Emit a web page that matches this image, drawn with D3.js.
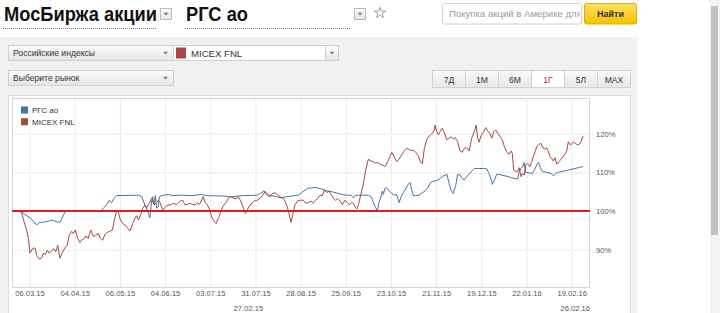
<!DOCTYPE html>
<html><head><meta charset="utf-8">
<script src="https://cdn.jsdelivr.net/npm/d3@7"></script>
<style>html,body{margin:0;padding:0;background:#fff;overflow:hidden}svg{display:block}</style>
</head><body><svg id="c" width="720" height="313"></svg>
<script>
// ---- data ----
const tickDays = [5,25,45,65,85,105,125,145,165,185,205,225,245];
const tickLabels = ["06.03.15","04.04.15","06.05.15","04.06.15","03.07.15","31.07.15","28.08.15","25.09.15","23.10.15","21.11.15","19.12.15","22.01.16","19.02.16"];
const rangeLabels = ["27.02.15","26.02.16"];
const yTicks = [90,100,110,120];
const seriesNames = ["РГС ао","MICEX FNL"];
const periodButtons = ["7Д","1М","6М","1Г","5Л","MAX"];
const rgs = [[0,100],[1.5,99.8],[3,99.1],[5.2,98.3],[6.7,97.4],[8.2,96.4],[9.4,97.1],[10.4,97.1],[11.9,97.2],[13.3,97.4],[14.8,97.7],[16.3,97.4],[17.3,97.2],[18.5,97.1],[19.7,98.5],[20.7,99.8],[22.2,100],[36.2,100],[37,100.3],[38,100.9],[39.2,101.7],[40.3,102.8],[41.4,102.2],[42.4,103.3],[43.6,104],[53.2,104.1],[54.7,103.7],[55.4,102.6],[56.1,101.6],[56.9,100.5],[57.6,99.4],[58.3,98.3],[59.1,102.8],[59.5,103.7],[60.1,101.7],[60.7,104],[61.3,100.7],[62,101.1],[62.5,103.7],[63.5,104],[66.5,104.3],[68,104],[72.4,104.1],[76.8,104],[81.2,104.3],[83.4,104],[90.8,103.9],[93.8,103.7],[99.7,104],[105.6,104.1],[107.3,104.6],[108.8,105.2],[110,104.6],[111.2,104.1],[114.4,103.7],[116.6,103.4],[118.8,103.7],[122.5,104],[124,104.1],[125.5,104.8],[127,105.4],[128.4,105.9],[129.9,106],[131.4,106.1],[132.9,105.9],[134.3,105.7],[136.6,105.2],[138.8,105],[140.9,104.7],[143.2,104.3],[145.4,104.1],[147.3,104.1],[148.4,103.4],[149.1,104],[150.6,104.1],[155,104.1],[156.2,103.7],[157.2,102.2],[158.2,100.9],[159,100],[159.7,102.2],[160.6,103.7],[161.2,105.2],[161.6,104.3],[162.4,105.9],[163.1,106],[164.2,105.2],[165.3,104.6],[166.5,104.1],[167.5,104.3],[168.6,102.2],[169.5,103.7],[170.5,104.8],[171.5,105.7],[172.4,106.7],[173.4,107.4],[174.2,105.4],[174.9,104],[175.9,104],[177.4,104.1],[178.6,104.6],[180.1,105.2],[181.3,106],[182.3,107.2],[183.3,107.6],[184.5,107.8],[185.7,108],[186.7,108.4],[187.7,108.9],[188.9,109.3],[189.8,109.5],[190.7,107.2],[191.6,105.4],[192.6,104.6],[193.7,106.7],[194.5,109.5],[195.6,109.3],[196.3,108.6],[197.5,108],[198.5,108.9],[199.6,109.5],[200.7,110.3],[201.9,111],[203.7,111],[205.9,111],[207.4,110.9],[208.4,109.7],[209.3,108.3],[209.9,106.9],[210.8,108],[211.8,109.5],[212.8,109.5],[214,109.3],[215.5,109.1],[216.9,108.9],[218.4,108.6],[219.9,108.4],[221.1,108.3],[221.7,110],[222.6,111],[223.3,111.5],[224,112.6],[224.6,110],[225.8,109.9],[227.6,109.7],[228.5,110.6],[229.5,111.9],[230.3,112.6],[231.1,111.2],[232,110.2],[234,110],[235.9,109.7],[236.9,109.1],[237.9,109.7],[239.1,110],[241.3,110.3],[243.5,110.6],[245.7,110.9],[247.9,111.2],[250,111.5]];
const micex = [[0,100],[1.5,99.7],[2.6,97.2],[3.7,95.1],[4.5,92.9],[5.2,89.2],[6.4,90.3],[7.4,90.5],[8.2,88.6],[9.4,87.6],[10.4,87.9],[11.1,89.1],[12,88.8],[12.9,89.9],[13.8,89.1],[14.7,89.7],[15.6,90.3],[16.6,89.5],[17.5,91.2],[18.5,87.8],[19.7,89.5],[20.7,90.5],[21.7,91.2],[22.6,93.8],[23.7,94.8],[24.4,94.2],[25.3,95.1],[26.3,92.9],[27.3,91.9],[28.1,92.5],[29.1,92.9],[30,93.6],[31,92.9],[32.1,95.1],[33.3,93.4],[34.3,93.8],[35.5,94.2],[36.2,93.1],[37.4,92.5],[38.4,94],[39.5,94.5],[40.6,94.8],[41.7,95.1],[42.4,97.2],[43.6,100.3],[44.3,99.8],[45.1,97.9],[46.2,96.8],[47.3,96.4],[48.3,95.7],[49.5,94.9],[50.7,96.8],[51.7,98.1],[52.4,98.8],[53.2,97.7],[54.2,99.1],[55.1,100.7],[56.1,101.6],[56.9,100.9],[58,102],[59.1,103.3],[60.1,101.6],[61.3,102.2],[62,102.8],[62.8,102.2],[63.9,100.3],[65,100.9],[65.7,101.4],[66.9,101.6],[67.9,101.7],[68.7,102],[70.1,101.7],[70.9,102.2],[71.9,102.6],[72.8,102.8],[73.8,101.6],[74.8,101.7],[76,102],[77.2,101.7],[78.3,101.6],[79.3,102.2],[80.2,101.7],[81.2,102.8],[81.9,103.7],[82.7,102.2],[83.7,101.7],[84.6,100.5],[85.6,98.5],[86.7,97.4],[87.6,96.8],[88.6,98.1],[89.6,99.8],[90.8,101.4],[92,102.2],[93,103.3],[94,103.7],[95.2,103.4],[96.4,103.1],[97.4,103.7],[98.5,102.6],[99.7,100.7],[100.5,99.4],[101.4,100.3],[102.6,101.6],[103.8,102.2],[104.8,102.8],[105.9,102.8],[107,103.3],[108.2,104.1],[109.3,105],[110.3,104],[111.5,103.7],[112.6,104.6],[113.7,104.7],[114.7,104.3],[115.9,103.7],[117.1,103.3],[118.1,102.6],[119.1,101.1],[120,99],[120.8,97.1],[121.8,99.8],[122.5,101.6],[123.6,102.6],[124.7,102.8],[126.2,102.8],[127.3,102],[128.4,102.2],[129.6,102.6],[130.6,102],[131.7,102.8],[132.6,103.3],[133.6,104.1],[134.6,104],[135.5,105.4],[136.5,104.8],[137.6,105.2],[138.5,104.3],[139.5,103.3],[140.5,102.8],[141.4,103.3],[142.5,102.6],[143.5,101.7],[144.7,102.8],[145.7,102.2],[146.6,101.6],[147.6,102.2],[148.4,102],[149.1,101.1],[149.9,100.5],[150.6,101.7],[151.6,104.1],[152.8,107.2],[153.8,110.6],[155,113.4],[156.2,112.9],[157.2,112.8],[158.2,112.3],[159.1,112.6],[160.2,112.1],[161.2,111.9],[162.4,111.5],[163.6,112.8],[164.6,114.1],[165.3,115.2],[166.4,114.1],[167.5,112.8],[168.6,113.4],[169.7,114.5],[170.9,115.5],[171.9,116.2],[173,116],[173.9,115.5],[174.9,115.8],[175.9,115.2],[177.1,114.3],[177.9,112.9],[178.9,112.2],[179.8,116.2],[180.8,118.4],[181.5,119.2],[182.3,119.5],[183.3,120.1],[184.2,120.9],[184.5,122.2],[185.2,120.7],[186,119.7],[186.9,120.7],[187.7,121.4],[188.6,120.3],[189.7,118.4],[190.7,118.8],[191.6,119.2],[192.6,118.6],[193.4,119],[194.5,117.9],[195.6,115.5],[196.6,115.2],[197.5,116.2],[198.5,116.4],[199.6,115.5],[200.7,118.8],[201.9,120.5],[202.7,122.2],[203.4,118.8],[204,117.8],[204.9,119.5],[205.9,120.3],[206.9,121.6],[207.8,120.7],[208.8,120.1],[209.6,118.8],[210.5,120.5],[211.4,120.9],[212.3,120.1],[213.3,119.2],[214.3,118.4],[215.2,116.6],[216.2,115.3],[217.3,114.7],[218.2,115.5],[218.7,114.9],[219.3,110.6],[220.2,110.3],[221.1,110.2],[221.7,111.2],[222.6,108.9],[223.2,109.7],[224,109.3],[224.6,111.9],[225.5,112.3],[226.5,111.5],[227.3,112.8],[228,114.1],[228.8,115.3],[229.5,116.6],[230.5,117.2],[231.4,117.5],[232.4,116.2],[233.2,116],[233.9,116.4],[234.7,115.3],[235.4,114.1],[236.1,113.6],[236.9,112.9],[237.6,113.8],[238.4,112.1],[239.4,112.8],[240.6,113.6],[241.8,114.5],[242.8,115.5],[243.5,117.9],[244.4,117.1],[245.3,117.5],[246.2,117.8],[247.2,117.2],[248.2,117.2],[249.1,117.9],[250,119.4]];
const colors = ["#4572A7","#AA4643"];

// ---- page ----
const svg = d3.select("#c");
const FONT = "'Liberation Sans', Arial, sans-serif";
const defs = svg.append("defs");
function grad(id, a, b){const g=defs.append("linearGradient").attr("id",id).attr("x1",0).attr("y1",0).attr("x2",0).attr("y2",1);g.append("stop").attr("offset","0%").attr("stop-color",a);g.append("stop").attr("offset","100%").attr("stop-color",b);}
grad("gSel","#fdfdfd","#e4e4e4");
grad("gYel","#ffe066","#f5c200");
grad("gBtn","#fafafa","#e6e6e6");
function arrow(cx, cy){svg.append("path").attr("d",`M${cx-2.5},${cy-1.2}L${cx+2.5},${cy-1.2}L${cx},${cy+1.6}Z`).attr("fill","#777");}

// header
const h1 = svg.append("text").attr("x",4).attr("y",21).attr("font-family",FONT).attr("font-weight","bold").attr("font-size",21).attr("fill","#111").text("МосБиржа акции");
h1.attr("textLength",153).attr("lengthAdjust","spacingAndGlyphs");
svg.append("line").attr("x1",3).attr("x2",157).attr("y1",28.5).attr("y2",28.5).attr("stroke","#777").attr("stroke-dasharray","1,1");
svg.append("rect").attr("x",160.5).attr("y",8.5).attr("width",11).attr("height",11).attr("fill","url(#gSel)").attr("stroke","#bbb");
arrow(166,14);
svg.append("text").attr("x",186).attr("y",21).attr("font-family",FONT).attr("font-weight","bold").attr("font-size",21).attr("fill","#111").text("РГС ао").attr("textLength",62).attr("lengthAdjust","spacingAndGlyphs");
svg.append("line").attr("x1",185).attr("x2",350).attr("y1",28.5).attr("y2",28.5).attr("stroke","#777").attr("stroke-dasharray","1,1");
svg.append("rect").attr("x",354.5).attr("y",8.5).attr("width",11).attr("height",11).attr("fill","url(#gSel)").attr("stroke","#bbb");
arrow(360,14);
svg.append("path").attr("d",d3.symbol(d3.symbolStar,38)()).attr("transform","translate(380,13)").attr("fill","none").attr("stroke","#999").attr("stroke-width",0.9);
// search
svg.append("rect").attr("x",442.5).attr("y",3.5).attr("width",139).attr("height",20.5).attr("fill","#fff").attr("stroke","#d4d4d4").attr("rx",1);
defs.append("clipPath").attr("id","clipS").append("rect").attr("x",444).attr("y",4).attr("width",136).attr("height",19);
svg.append("text").attr("clip-path","url(#clipS)").attr("x",449).attr("y",17).attr("font-family",FONT).attr("font-size",9.6).attr("fill","#9a9a9a").text("Покупка акций в Америке для");
svg.append("rect").attr("x",584.5).attr("y",3.5).attr("width",52).attr("height",20.5).attr("rx",2).attr("fill","url(#gYel)").attr("stroke","#dcb000");
svg.append("text").attr("x",610.5).attr("y",17).attr("text-anchor","middle").attr("font-family",FONT).attr("font-weight","bold").attr("font-size",9).attr("fill","#333").text("Найти");
// scrollbar
svg.append("rect").attr("x",710).attr("y",0).attr("width",10).attr("height",313).attr("fill","#f4f4f4");
svg.append("rect").attr("x",711).attr("y",6).attr("width",7).attr("height",229).attr("fill","#c2c2c2");

// panel
svg.append("rect").attr("x",0).attr("y",37).attr("width",637).attr("height",276).attr("fill","#f1f1f1");
// selects
function select(x, y, w, label, white){
  svg.append("rect").attr("x",x+0.5).attr("y",y+0.5).attr("width",w).attr("height",15).attr("fill",white?"#fff":"url(#gSel)").attr("stroke","#cfcfcf");
}
select(8,45,165,null,false);
svg.append("text").attr("x",13).attr("y",56).attr("font-family",FONT).attr("font-size",8.6).attr("fill","#333").text("Российские индексы");
arrow(165.5,53);
select(173,45,165,null,true);
svg.append("rect").attr("x",325.5).attr("y",45.5).attr("width",13).attr("height",15).attr("fill","url(#gSel)").attr("stroke","#cfcfcf");
arrow(332,53);
svg.append("rect").attr("x",176).attr("y",47.5).attr("width",10).attr("height",11).attr("fill",colors[1]);
svg.append("text").attr("x",191).attr("y",56.5).attr("font-family",FONT).attr("font-size",9.6).attr("fill","#333").text(seriesNames[1]);
select(8,70,165,null,false);
svg.append("text").attr("x",13).attr("y",81).attr("font-family",FONT).attr("font-size",8.6).attr("fill","#333").text("Выберите рынок");
arrow(165.5,78);
// period buttons
const bx = d3.scaleBand().domain(periodButtons).range([432.5,630.5]);
periodButtons.forEach(p=>{
  const sel = p==="1Г";
  svg.append("rect").attr("x",bx(p)).attr("y",70.5).attr("width",bx.bandwidth()).attr("height",17).attr("fill",sel?"#fff":"url(#gBtn)").attr("stroke","#d2d2d2");
  svg.append("text").attr("x",bx(p)+bx.bandwidth()/2).attr("y",82.5).attr("text-anchor","middle").attr("font-family",FONT).attr("font-size",8.6).attr("fill",sel?"#d0161b":"#333").text(p);
});

// chart box
svg.append("rect").attr("x",8.5).attr("y",95.5).attr("width",622).attr("height",230).attr("fill","#fff").attr("stroke","#dcdcdc");

// ---- chart ----
const L=12, R=590, T=98, B=287;
const x = d3.scaleLinear().domain([-2.75,253.1]).range([L,R]);
const y = d3.scaleLinear().domain([80.4,129.2]).range([B,T]);

const gx = svg.append("g").attr("transform",`translate(0,${B})`)
  .call(d3.axisBottom(x).tickValues(tickDays).tickFormat((d,i)=>tickLabels[i]).tickSize(-(B-T)).tickPadding(4));
gx.select(".domain").remove();
gx.selectAll("line").attr("stroke","#e4e4e4").attr("stroke-dasharray","3,1");
gx.selectAll("text").attr("font-family",FONT).attr("font-size",7.6).attr("fill","#555");

const gy = svg.append("g").attr("transform",`translate(${R},0)`)
  .call(d3.axisRight(y).tickValues(yTicks).tickFormat(d=>d+"%").tickSize(-(R-L)).tickPadding(6));
gy.select(".domain").remove();
gy.selectAll("line").attr("stroke","#e4e4e4").attr("stroke-dasharray","3,1");
gy.selectAll("text").attr("font-family",FONT).attr("font-size",7.6).attr("fill","#555");

// plot border
svg.append("rect").attr("x",L+0.5).attr("y",T+0.5).attr("width",R-L-1).attr("height",B-T).attr("fill","none").attr("stroke","#d6d6d6");

// range labels
svg.append("text").attr("x",x(0)+245).attr("y",311).attr("text-anchor","end").attr("font-family",FONT).attr("font-size",7.6).attr("fill","#555").text(rangeLabels[0]);
svg.append("text").attr("x",R).attr("y",311).attr("text-anchor","end").attr("font-family",FONT).attr("font-size",7.6).attr("fill","#555").text(rangeLabels[1]);

// series
const line = d3.line().x(d=>x(d[0])).y(d=>y(d[1]));
[rgs, micex].forEach((s,i)=>{
  svg.append("path").datum(s).attr("d",line).attr("fill","none").attr("stroke",colors[i]).attr("stroke-width",1).attr("stroke-linejoin","round");
});
// baseline 100%
svg.append("line").attr("x1",L).attr("x2",R).attr("y1",y(100)).attr("y2",y(100)).attr("stroke","#dd1c1c").attr("stroke-width",2);

// legend
seriesNames.forEach((n,i)=>{
  svg.append("rect").attr("x",21).attr("y",106.5+i*11.7).attr("width",7).attr("height",7).attr("fill",colors[i]);
  svg.append("text").attr("x",32).attr("y",113+i*11.7).attr("font-family",FONT).attr("font-size",8).attr("fill","#333").text(n);
});
</script></body></html>
